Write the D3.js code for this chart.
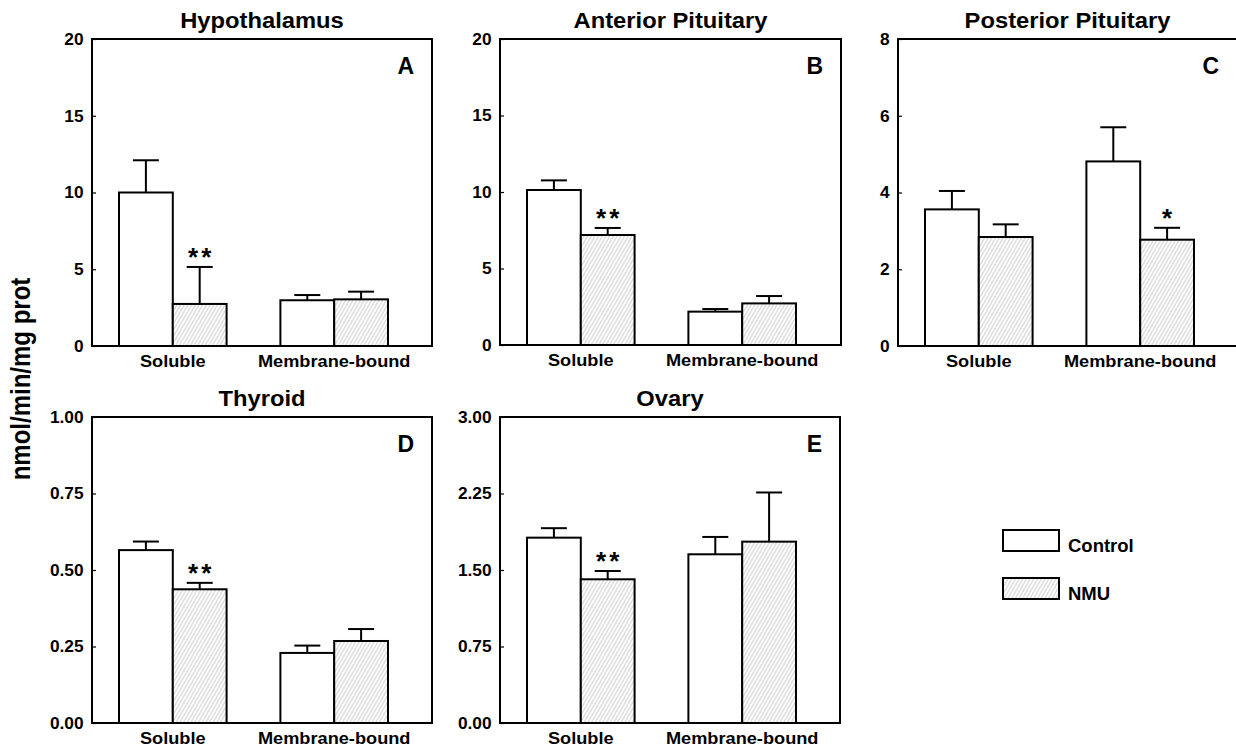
<!DOCTYPE html>
<html>
<head>
<meta charset="utf-8">
<script src="https://cdn.jsdelivr.net/npm/d3@7"></script>
<style>
  body { margin: 0; background: #fff; }
  text { font-family: "Liberation Sans", Arial, sans-serif; font-weight: bold; fill: #000; }
</style>
</head>
<body>
<div id="chart"></div>
<script>
// data
var categories = ["Soluble", "Membrane-bound"];
var groups = ["Control", "NMU"];
var titles = ["Hypothalamus", "Anterior Pituitary", "Posterior Pituitary", "Thyroid", "Ovary"];
var letters = ["A", "B", "C", "D", "E"];
var yMax = [20, 20, 8, 1, 3];
var yTicks = [[0, 5, 10, 15, 20], [0, 5, 10, 15, 20], [0, 2, 4, 6, 8],
              [0, 0.25, 0.5, 0.75, 1], [0, 0.75, 1.5, 2.25, 3]];
var tickDigits = [0, 0, 0, 2, 2];
var controlMean = [[10.0, 2.98], [10.13, 2.18], [3.56, 4.81], [0.565, 0.229], [1.817, 1.654]];
var controlErr  = [[2.1, 0.34], [0.63, 0.17], [0.48, 0.89], [0.028, 0.024], [0.093, 0.17]];
var nmuMean     = [[2.74, 3.04], [7.19, 2.72], [2.84, 2.77], [0.437, 0.268], [1.409, 1.778]];
var nmuErr      = [[2.41, 0.5], [0.46, 0.48], [0.33, 0.31], [0.021, 0.039], [0.081, 0.482]];
var nmuStars    = [["**", ""], ["**", ""], ["", "*"], ["**", ""], ["**", ""]];

// panel boxes on the page
var boxes = [
  {x: 92,  y: 39,  w: 340, h: 307},
  {x: 500, y: 39,  w: 341, h: 306},
  {x: 898, y: 39,  w: 339, h: 307},
  {x: 92,  y: 417, w: 340, h: 306},
  {x: 500, y: 417, w: 340, h: 306}
];

var svg = d3.select("#chart").append("svg")
    .attr("width", 1236)
    .attr("height", 750);

var defs = svg.append("defs");
var pat = defs.append("pattern")
    .attr("id", "hatch")
    .attr("patternUnits", "userSpaceOnUse")
    .attr("width", 3.2).attr("height", 3.2)
    .attr("patternTransform", "rotate(30)");
pat.append("rect").attr("width", 3.2).attr("height", 3.2).attr("fill", "#fff");
pat.append("line").attr("x1", 1.6).attr("y1", 0).attr("x2", 1.6).attr("y2", 3.2)
    .attr("stroke", "#c2c2c2").attr("stroke-width", 0.8);

function addText(sel, x, y, str, size, anchor, sx)
{
  return sel.append("text")
      .attr("transform", "translate(" + x + "," + y + ") scale(" + sx + ",1)")
      .attr("text-anchor", anchor)
      .attr("font-size", size + "px")
      .text(str);
}

var fills = ["#fff", "url(#hatch)"];

titles.forEach(function(title, i) {
  var b = boxes[i];
  var g = svg.append("g").attr("transform", "translate(" + b.x + "," + b.y + ")");

  var y = d3.scaleLinear().domain([0, yMax[i]]).range([b.h, 0]);
  var x0 = d3.scaleBand().domain(categories).range([27, 296]).paddingInner(1 / 3);
  var x1 = d3.scaleBand().domain(groups).range([0, x0.bandwidth()]);

  var means = [controlMean[i], nmuMean[i]];
  var errs = [controlErr[i], nmuErr[i]];

  var rows = [];
  categories.forEach(function(c, ci) {
    groups.forEach(function(s, si) {
      rows.push({cat: c, grp: s, si: si, v: means[si][ci], e: errs[si][ci],
                 star: si == 1 ? nmuStars[i][ci] : ""});
    });
  });

  // error bars first, so the bar outline sits on top
  rows.forEach(function(d) {
    var cx = x0(d.cat) + x1(d.grp) + x1.bandwidth() / 2;
    var top = y(d.v + d.e);
    g.append("line").attr("x1", cx).attr("x2", cx).attr("y1", y(d.v)).attr("y2", top)
        .attr("stroke", "#000").attr("stroke-width", 2);
    g.append("line").attr("x1", cx - 13).attr("x2", cx + 13).attr("y1", top).attr("y2", top)
        .attr("stroke", "#000").attr("stroke-width", 2);
    if (d.star) {
      addText(g, cx + (d.star.length > 1 ? 1.5 : 0), top - 1, d.star, 26, "middle", 1)
          .attr("letter-spacing", d.star.length > 1 ? "3px" : null);
    }
  });

  g.selectAll("rect.bar").data(rows).enter().append("rect")
      .attr("class", "bar")
      .attr("x", function(d) { return x0(d.cat) + x1(d.grp); })
      .attr("y", function(d) { return y(d.v); })
      .attr("width", x1.bandwidth())
      .attr("height", function(d) { return y(0) - y(d.v); })
      .attr("fill", function(d) { return fills[d.si]; })
      .attr("stroke", "#000")
      .attr("stroke-width", 2);

  var ax = g.append("g")
      .call(d3.axisLeft(y).tickValues(yTicks[i]).tickSize(-4).tickPadding(8)
          .tickFormat(d3.format("." + tickDigits[i] + "f")));
  ax.select(".domain").remove();
  ax.selectAll(".tick line").attr("stroke", "#000").attr("stroke-width", 1.2);
  ax.selectAll(".tick text")
      .attr("font-size", "16.5px")
      .attr("font-family", "'Liberation Sans', Arial, sans-serif")
      .attr("font-weight", "bold")
      .attr("fill", "#000")
      .attr("transform", "scale(1.05,1)");

  g.append("rect")
      .attr("width", b.w).attr("height", b.h)
      .attr("fill", "none").attr("stroke", "#000").attr("stroke-width", 2);

  categories.forEach(function(c) {
    addText(g, x0(c) + x0.bandwidth() / 2, b.h + 21, c, 17, "middle", 1.07);
  });

  addText(g, b.w / 2, -11, title, 22, "middle", 1.08);
  addText(g, b.w - 18, 35, letters[i], 23, "end", 1);
});

// y axis title
svg.append("text")
    .attr("transform", "translate(30,379) scale(1.15,1) rotate(-90)")
    .attr("text-anchor", "middle")
    .attr("font-size", "24px")
    .text("nmol/min/mg prot");

// legend
var legend = svg.append("g").attr("transform", "translate(1003,530)");
groups.forEach(function(s, i) {
  var lg = legend.append("g").attr("transform", "translate(0," + (i * 48) + ")");
  lg.append("rect").attr("width", 56).attr("height", 21)
      .attr("fill", fills[i]).attr("stroke", "#000").attr("stroke-width", 2);
  addText(lg, 65, 22, s, 18.5, "start", 1);
});
</script>
</body>
</html>
